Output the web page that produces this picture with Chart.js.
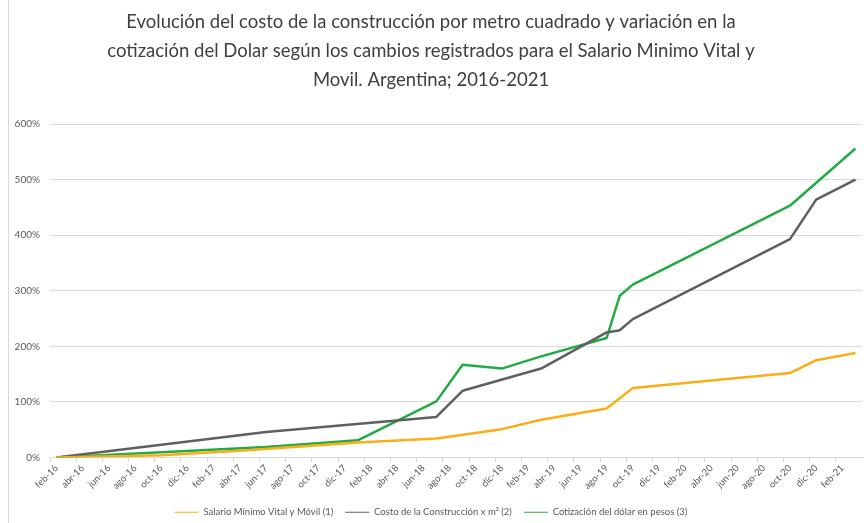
<!DOCTYPE html>
<html lang="es">
<head>
<meta charset="utf-8">
<title>Costo de la construcción, dólar y SMVM 2016-2021</title>
<script src="https://cdn.jsdelivr.net/npm/chart.js@4.4.1/dist/chart.umd.min.js"></script>
<style>
  html, body { margin: 0; padding: 0; background: #fff; }
  #wrap { position: relative; width: 868px; height: 523px; }
  #borde { position: absolute; left: 8px; top: 0; width: 1px; height: 523px; background: #d9d9d9; }
</style>
</head>
<body>
<div id="wrap">
  <div id="borde"></div>
  <canvas id="grafico"></canvas>
</div>
<script>
// --- datos ---
const MESES = ["ene", "feb", "mar", "abr", "may", "jun", "jul", "ago", "sep", "oct", "nov", "dic"];

// categorías mensuales feb-16 ... mar-21
const categorias = [];
for (let i = 0; i < 62; i++) {
  const m = (1 + i) % 12;
  const a = 16 + Math.floor((1 + i) / 12);
  categorias.push(MESES[m] + "-" + a);
}

// meses con dato y variación acumulada (%) de cada serie
const salarioMeses = ["feb-16", "oct-16", "abr-17", "jul-17", "ene-18", "jul-18", "dic-18", "mar-19", "ago-19", "oct-19", "oct-20", "dic-20", "mar-21"];
const salarioValores = [0, 4, 12, 17, 27, 34, 51, 68, 88, 125, 152, 175, 188];

const costoMeses = ["feb-16", "jun-17", "jul-18", "sep-18", "mar-19", "ago-19", "sep-19", "oct-19", "oct-20", "dic-20", "mar-21"];
const costoValores = [0, 46, 73, 120, 160, 225, 229, 249, 393, 464, 500];

const dolarMeses = ["feb-16", "jun-17", "ene-18", "jul-18", "sep-18", "dic-18", "mar-19", "ago-19", "sep-19", "oct-19", "oct-20", "mar-21"];
const dolarValores = [0, 19, 31, 101, 167, 160, 182, 215, 291, 311, 453, 556];

const yTicks = [0, 100, 200, 300, 400, 500, 600];

// arma la serie completa con huecos donde no hay dato
function serie(meses, valores) {
  const out = new Array(categorias.length).fill(null);
  meses.forEach((m, i) => { out[categorias.indexOf(m)] = valores[i]; });
  return out;
}

const FUENTE = "Lato, 'Open Sans', sans-serif";
const GRIS_TXT = "#595959";
const GRILLA = "#d9d9d9";

new Chart(document.getElementById("grafico"), {
  type: "line",
  data: {
    labels: categorias,
    datasets: [
      { label: "Salario Mínimo Vital y Móvil (1)", data: serie(salarioMeses, salarioValores), borderColor: "#fbad18", backgroundColor: "#fbad18" },
      { label: "Costo de la Construcción x m² (2)", data: serie(costoMeses, costoValores), borderColor: "#5f5f5f", backgroundColor: "#5f5f5f" },
      { label: "Cotización del dólar en pesos (3)", data: serie(dolarMeses, dolarValores), borderColor: "#22ab45", backgroundColor: "#22ab45" }
    ]
  },
  options: {
    responsive: true,
    maintainAspectRatio: false,
    animation: false,
    spanGaps: true,
    elements: {
      line: { borderWidth: 2.5, tension: 0, borderJoinStyle: "round" },
      point: { radius: 0, hoverRadius: 0 }
    },
    layout: { padding: { left: 0, right: 6, top: 0, bottom: -4 } },
    scales: {
      x: {
        offset: true,
        afterFit: s => { s.height = 38; },
        grid: {
          offset: true,
          drawOnChartArea: false,
          drawTicks: true,
          tickLength: 5,
          color: ctx => (ctx.index % 2 === 0 ? GRILLA : "rgba(0,0,0,0)")
        },
        border: { color: GRILLA, width: 1 },
        ticks: {
          autoSkip: false,
          minRotation: 45,
          maxRotation: 45,
          padding: 0,
          color: GRIS_TXT,
          font: { family: FUENTE, size: 9.5 },
          callback: function (v, i) { return i % 2 === 0 ? this.getLabelForValue(v) : ""; }
        }
      },
      y: {
        min: 0,
        max: 600,
        afterFit: s => { s.width = 50; },
        afterBuildTicks: s => { s.ticks = yTicks.map(v => ({ value: v })); },
        grid: { color: GRILLA, lineWidth: 1, drawTicks: false },
        border: { display: false },
        ticks: {
          padding: 10,
          color: GRIS_TXT,
          font: { family: FUENTE, size: 10 },
          callback: v => v + "%"
        }
      }
    },
    plugins: {
      title: {
        display: true,
        text: [
          "Evolución del costo de la construcción por metro cuadrado y variación en la",
          "cotización del Dolar según los cambios registrados para el Salario Minimo Vital y",
          "Movil. Argentina; 2016-2021"
        ],
        color: "#404040",
        font: { family: FUENTE, size: 18.5, weight: "normal", lineHeight: 1.55 },
        padding: { top: 8, bottom: 30 }
      },
      legend: {
        position: "bottom",
        labels: {
          usePointStyle: true,
          pointStyle: "line",
          pointStyleWidth: 24,
          boxHeight: 9,
          padding: 12,
          color: GRIS_TXT,
          font: { family: FUENTE, size: 9.5 }
        }
      },
      tooltip: { enabled: false }
    }
  }
});
</script>
</body>
</html>
